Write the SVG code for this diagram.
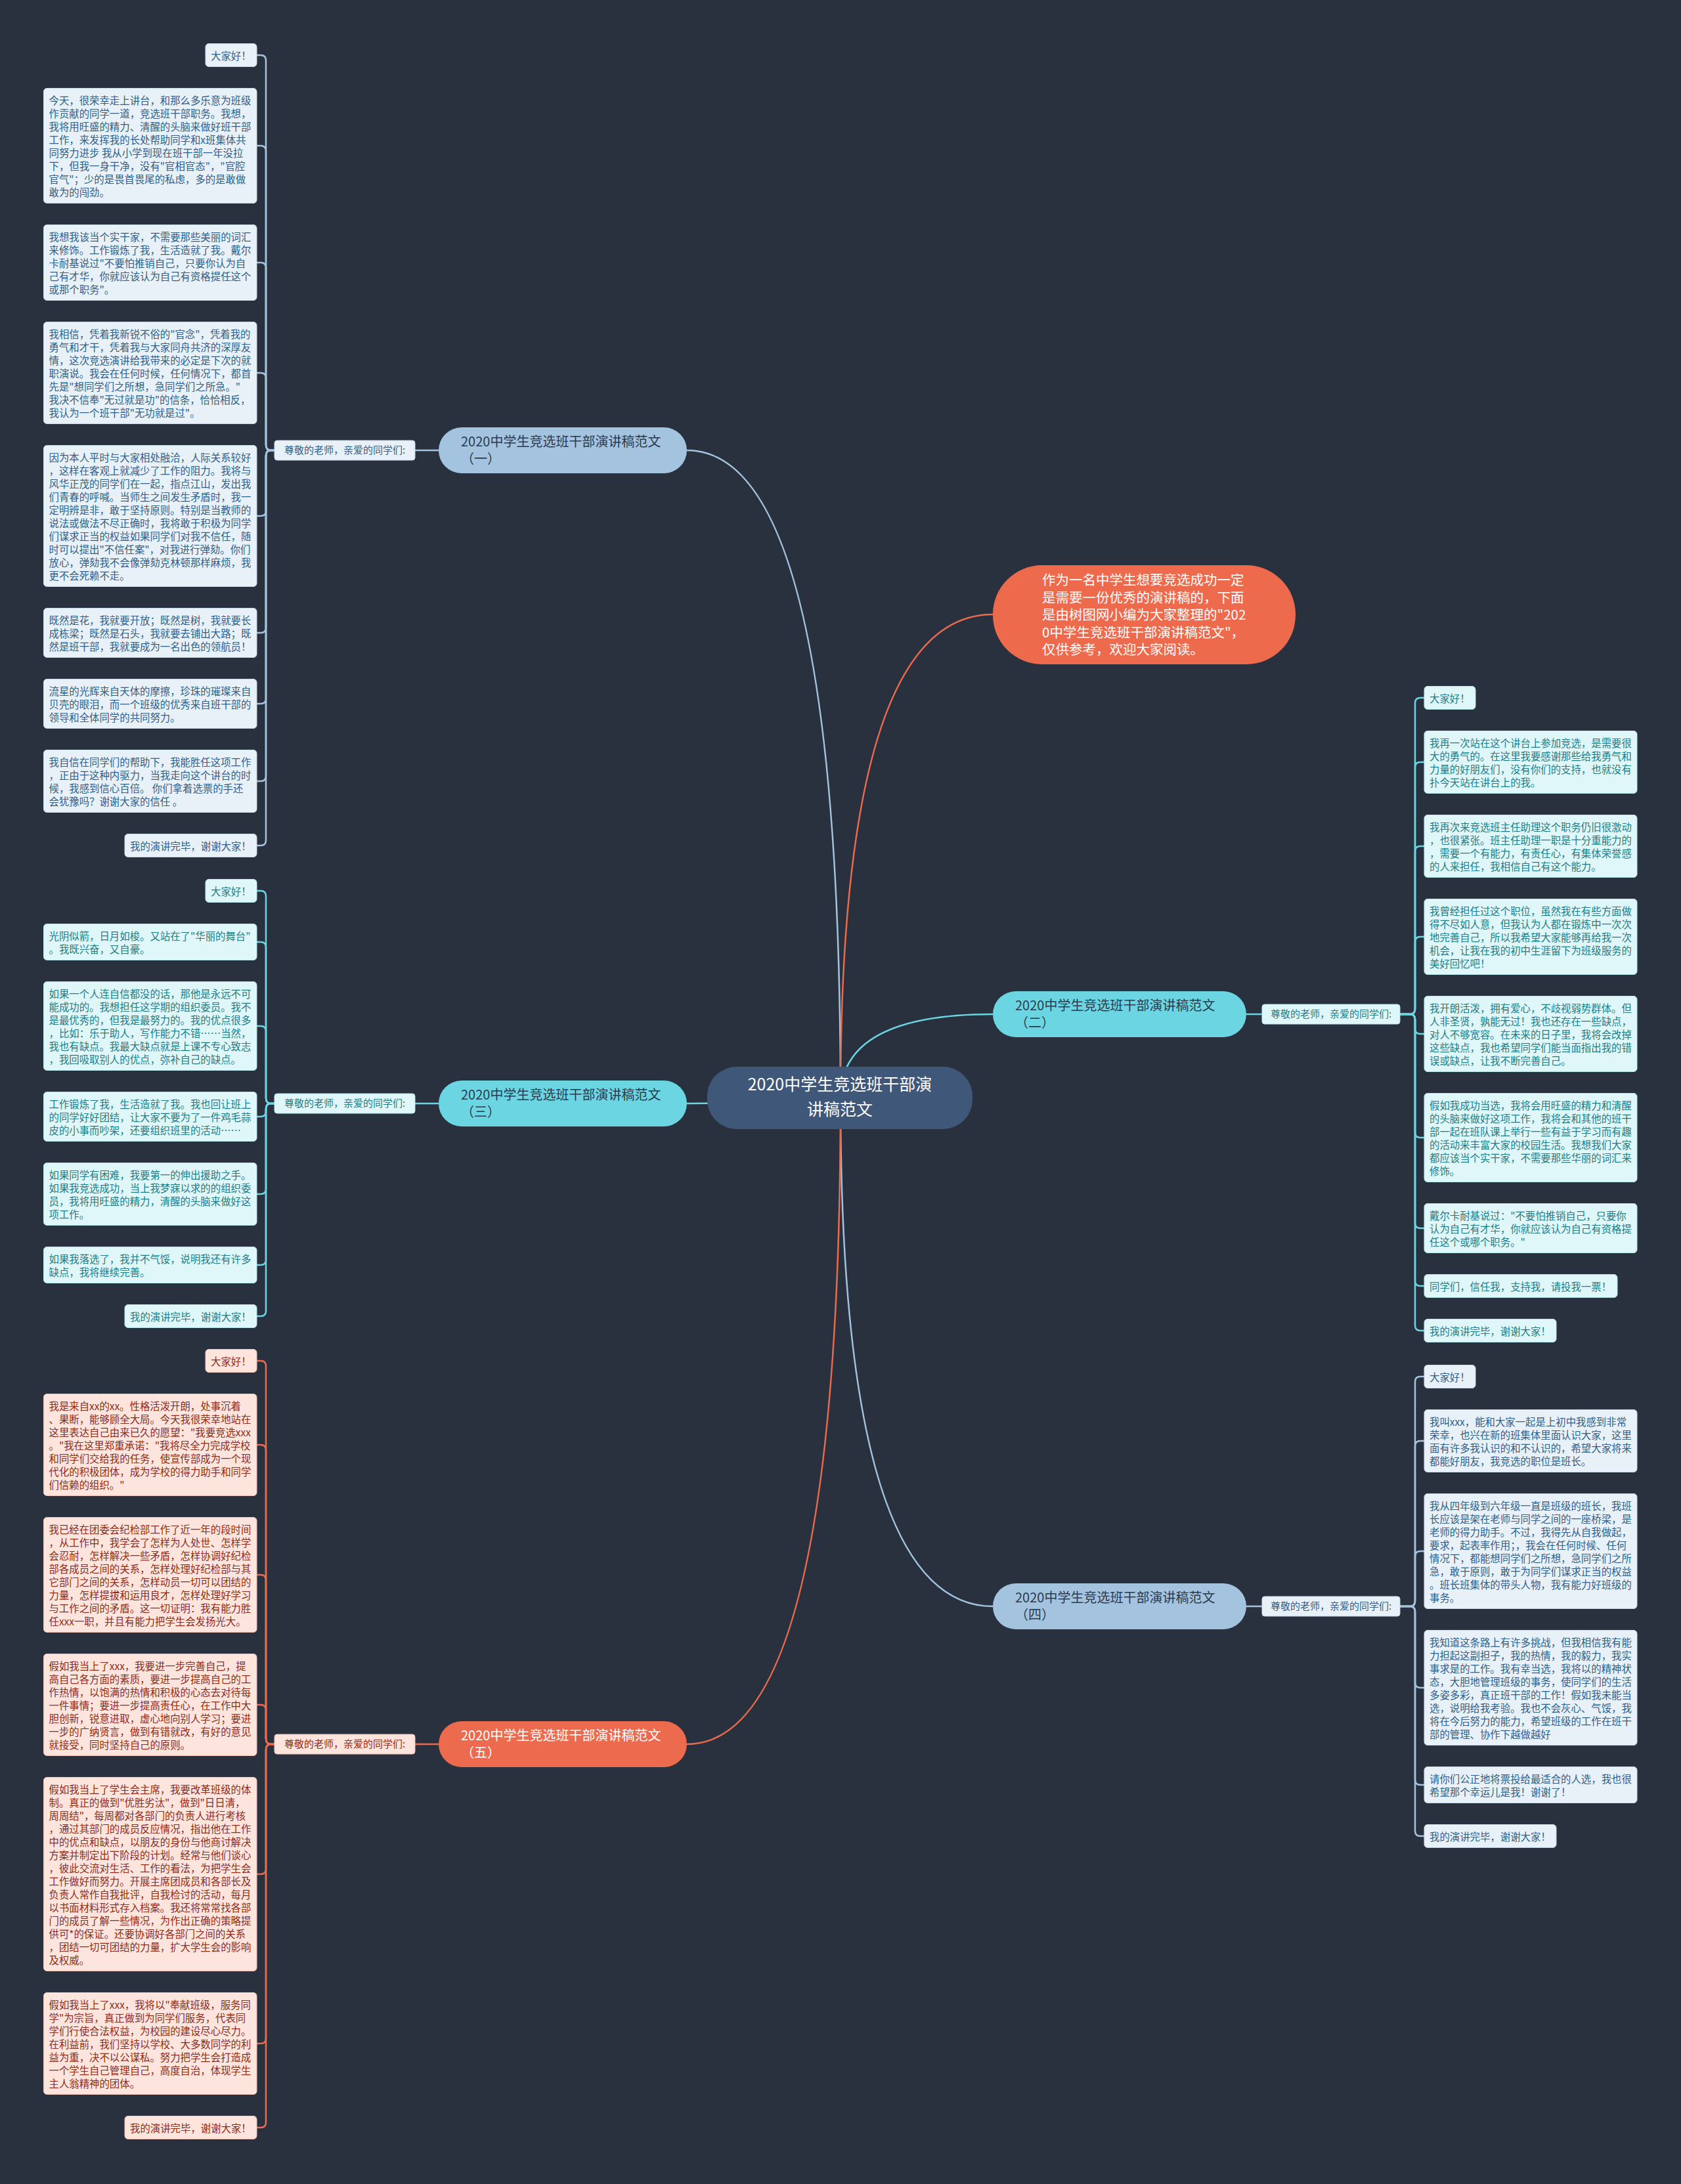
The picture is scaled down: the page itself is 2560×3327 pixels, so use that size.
<svg xmlns="http://www.w3.org/2000/svg" width="2560" height="3327" viewBox="0 0 2560 3327">
<style>
text{font-family:"Noto Sans CJK SC","Noto Sans",sans-serif}
.t{font-size:15.4px}
.lb{font-size:15px}
.bf{fill:#e9f1f8;stroke:#c9dbeb;stroke-width:1}
.bt{fill:#2f5f8a}
.cf{fill:#e0f7fa;stroke:#b6e8ee;stroke-width:1}
.ct{fill:#1d7d86}
.of{fill:#fde5de;stroke:#f2c3b6;stroke-width:1}
.ot{fill:#8c2c1a}
.cb{fill:none;stroke:#a3c3df;stroke-width:2.5}
.cc{fill:none;stroke:#6bd6e1;stroke-width:2.5}
.co{fill:none;stroke:#ec6b4e;stroke-width:2.5}
.nt{font-size:20px;fill:#2b3a4e}
</style>
<rect width="2560" height="3327" fill="#29313f"/>
<g id="connectors">
<path class="cb" d="M1046,686 Q1280,686 1280,1672"/>
<path class="co" d="M1512,936 Q1280,936 1280,1672"/>
<path class="cc" d="M1512,1545 Q1280,1545 1280,1672"/>
<path class="cc" d="M1046,1681 Q1160,1681 1280,1672"/>
<path class="cb" d="M1512,2447 Q1280,2447 1280,1672"/>
<path class="co" d="M1046,2657 Q1280,2657 1280,1672"/>
<path class="cb" d="M632,686 H668"/>
<path class="cc" d="M632,1681 H668"/>
<path class="co" d="M632,2657 H668"/>
<path class="cc" d="M1898,1545 H1922"/>
<path class="cb" d="M1898,2447 H1922"/>
<path class="cb" d="M418,686 H413 Q405,686 405,678 V92 Q405,84 397,84 H391"/>
<path class="cb" d="M418,686 H413 Q405,686 405,678 V230 Q405,222 397,222 H391"/>
<path class="cb" d="M418,686 H413 Q405,686 405,678 V408 Q405,400 397,400 H391"/>
<path class="cb" d="M418,686 H413 Q405,686 405,678 V576 Q405,568 397,568 H391"/>
<path class="cb" d="M418,686 H413 Q405,686 405,694 V778 Q405,786 397,786 H391"/>
<path class="cb" d="M418,686 H413 Q405,686 405,694 V956 Q405,964 397,964 H391"/>
<path class="cb" d="M418,686 H413 Q405,686 405,694 V1064 Q405,1072 397,1072 H391"/>
<path class="cb" d="M418,686 H413 Q405,686 405,694 V1182 Q405,1190 397,1190 H391"/>
<path class="cb" d="M418,686 H413 Q405,686 405,694 V1280 Q405,1288 397,1288 H391"/>
<path class="cc" d="M418,1681 H413 Q405,1681 405,1673 V1365 Q405,1357 397,1357 H391"/>
<path class="cc" d="M418,1681 H413 Q405,1681 405,1673 V1443 Q405,1435 397,1435 H391"/>
<path class="cc" d="M418,1681 H413 Q405,1681 405,1673 V1571 Q405,1563 397,1563 H391"/>
<path class="cc" d="M418,1681 H413 Q405,1681 405,1689 V1693 Q405,1701 397,1701 H391"/>
<path class="cc" d="M418,1681 H413 Q405,1681 405,1689 V1811 Q405,1819 397,1819 H391"/>
<path class="cc" d="M418,1681 H413 Q405,1681 405,1689 V1919 Q405,1927 397,1927 H391"/>
<path class="cc" d="M418,1681 H413 Q405,1681 405,1689 V1997 Q405,2005 397,2005 H391"/>
<path class="co" d="M418,2657 H413 Q405,2657 405,2649 V2081 Q405,2073 397,2073 H391"/>
<path class="co" d="M418,2657 H413 Q405,2657 405,2649 V2209 Q405,2201 397,2201 H391"/>
<path class="co" d="M418,2657 H413 Q405,2657 405,2649 V2407 Q405,2399 397,2399 H391"/>
<path class="co" d="M418,2657 H413 Q405,2657 405,2649 V2605 Q405,2597 397,2597 H391"/>
<path class="co" d="M418,2657 H413 Q405,2657 405,2665 V2847 Q405,2855 397,2855 H391"/>
<path class="co" d="M418,2657 H413 Q405,2657 405,2665 V3105 Q405,3113 397,3113 H391"/>
<path class="co" d="M418,2657 H413 Q405,2657 405,2665 V3233 Q405,3241 397,3241 H391"/>
<path class="cc" d="M2132,1545 H2147 Q2155,1545 2155,1537 V1071 Q2155,1063 2163,1063 H2169"/>
<path class="cc" d="M2132,1545 H2147 Q2155,1545 2155,1537 V1169 Q2155,1161 2163,1161 H2169"/>
<path class="cc" d="M2132,1545 H2147 Q2155,1545 2155,1537 V1297 Q2155,1289 2163,1289 H2169"/>
<path class="cc" d="M2132,1545 H2147 Q2155,1545 2155,1537 V1435 Q2155,1427 2163,1427 H2169"/>
<path class="cc" d="M2132,1545 H2147 Q2155,1545 2155,1553 V1567 Q2155,1575 2163,1575 H2169"/>
<path class="cc" d="M2132,1545 H2147 Q2155,1545 2155,1553 V1725 Q2155,1733 2163,1733 H2169"/>
<path class="cc" d="M2132,1545 H2147 Q2155,1545 2155,1553 V1863 Q2155,1871 2163,1871 H2169"/>
<path class="cc" d="M2132,1545 H2147 Q2155,1545 2155,1553 V1951 Q2155,1959 2163,1959 H2169"/>
<path class="cc" d="M2132,1545 H2147 Q2155,1545 2155,1553 V2019 Q2155,2027 2163,2027 H2169"/>
<path class="cb" d="M2132,2447 H2147 Q2155,2447 2155,2439 V2105 Q2155,2097 2163,2097 H2169"/>
<path class="cb" d="M2132,2447 H2147 Q2155,2447 2155,2439 V2203 Q2155,2195 2163,2195 H2169"/>
<path class="cb" d="M2132,2447 H2147 Q2155,2447 2155,2439 V2371 Q2155,2363 2163,2363 H2169"/>
<path class="cb" d="M2132,2447 H2147 Q2155,2447 2155,2455 V2563 Q2155,2571 2163,2571 H2169"/>
<path class="cb" d="M2132,2447 H2147 Q2155,2447 2155,2455 V2711 Q2155,2719 2163,2719 H2169"/>
<path class="cb" d="M2132,2447 H2147 Q2155,2447 2155,2455 V2789 Q2155,2797 2163,2797 H2169"/>
</g>

<g id="center"><rect x="1077" y="1625" width="404" height="95" rx="45" fill="#3f5779"/>
<text x="1279" y="1661" text-anchor="middle" font-size="25" fill="#ffffff">2020中学生竞选班干部演</text>
<text x="1279" y="1699" text-anchor="middle" font-size="25" fill="#ffffff">讲稿范文</text></g>

<g id="intro"><rect x="1512" y="861" width="461" height="151" rx="75" fill="#ee6a4c"/>
<text font-size="20.5" fill="#ffffff"><tspan x="1587" y="891">作为一名中学生想要竞选成功一定</tspan><tspan x="1587" y="917.5">是需要一份优秀的演讲稿的，下面</tspan><tspan x="1587" y="944">是由树图网小编为大家整理的"202</tspan><tspan x="1587" y="970.5">0中学生竞选班干部演讲稿范文"，</tspan><tspan x="1587" y="997">仅供参考，欢迎大家阅读。</tspan></text></g>

<g id="n1"><rect x="668" y="651" width="378" height="70" rx="35" fill="#a3c3df"/>
<text class="nt"><tspan x="702" y="680">2020中学生竞选班干部演讲稿范文</tspan><tspan x="702" y="706">（一）</tspan></text></g>
<g id="n2"><rect x="1512" y="1510" width="386" height="70" rx="35" fill="#6bd6e1"/>
<text class="nt"><tspan x="1546" y="1539">2020中学生竞选班干部演讲稿范文</tspan><tspan x="1546" y="1565">（二）</tspan></text></g>
<g id="n3"><rect x="668" y="1646" width="378" height="70" rx="35" fill="#6bd6e1"/>
<text class="nt"><tspan x="702" y="1675">2020中学生竞选班干部演讲稿范文</tspan><tspan x="702" y="1701">（三）</tspan></text></g>
<g id="n4"><rect x="1512" y="2412" width="386" height="70" rx="35" fill="#a3c3df"/>
<text class="nt"><tspan x="1546" y="2441">2020中学生竞选班干部演讲稿范文</tspan><tspan x="1546" y="2467">（四）</tspan></text></g>
<g id="n5"><rect x="668" y="2622" width="378" height="70" rx="35" fill="#ec6b4e"/>
<text class="nt" style="fill:#ffffff"><tspan x="702" y="2651">2020中学生竞选班干部演讲稿范文</tspan><tspan x="702" y="2677">（五）</tspan></text></g>

<g id="lab1"><rect class="bf" x="418" y="671" width="214" height="30" rx="4"/><text class="lb bt" x="525" y="691" text-anchor="middle">尊敬的老师，亲爱的同学们:</text></g>
<g id="lab3"><rect class="cf" x="418" y="1666" width="214" height="30" rx="4"/><text class="lb ct" x="525" y="1686" text-anchor="middle">尊敬的老师，亲爱的同学们:</text></g>
<g id="lab5"><rect class="of" x="418" y="2642" width="214" height="30" rx="4"/><text class="lb ot" x="525" y="2662" text-anchor="middle">尊敬的老师，亲爱的同学们:</text></g>
<g id="lab2"><rect class="cf" x="1922" y="1530" width="210" height="30" rx="4"/><text class="lb ct" x="2027" y="1550" text-anchor="middle">尊敬的老师，亲爱的同学们:</text></g>
<g id="lab4"><rect class="bf" x="1922" y="2432" width="210" height="30" rx="4"/><text class="lb bt" x="2027" y="2452" text-anchor="middle">尊敬的老师，亲爱的同学们:</text></g>

<g id="b1-0"><rect class="bf" x="313" y="66.5" width="78" height="35" rx="5"/><text class="t bt" x="321" y="90.5">大家好！</text></g>
<g id="b1-1"><rect class="bf" x="66.5" y="134.5" width="324.5" height="175" rx="5"/><text class="t bt"><tspan x="74.5" y="158.5">今天，很荣幸走上讲台，和那么多乐意为班级</tspan><tspan x="74.5" dy="20">作贡献的同学一道，竞选班干部职务。我想，</tspan><tspan x="74.5" dy="20">我将用旺盛的精力、清醒的头脑来做好班干部</tspan><tspan x="74.5" dy="20">工作，来发挥我的长处帮助同学和x班集体共</tspan><tspan x="74.5" dy="20">同努力进步 我从小学到现在班干部一年没拉</tspan><tspan x="74.5" dy="20">下，但我一身干净，没有"官相官态"，"官腔</tspan><tspan x="74.5" dy="20">官气"；少的是畏首畏尾的私虑，多的是敢做</tspan><tspan x="74.5" dy="20">敢为的闯劲。</tspan></text></g>
<g id="b1-2"><rect class="bf" x="66.5" y="342.5" width="324.5" height="115" rx="5"/><text class="t bt"><tspan x="74.5" y="366.5">我想我该当个实干家，不需要那些美丽的词汇</tspan><tspan x="74.5" dy="20">来修饰。工作锻炼了我，生活造就了我。戴尔</tspan><tspan x="74.5" dy="20">卡耐基说过"不要怕推销自己，只要你认为自</tspan><tspan x="74.5" dy="20">己有才华，你就应该认为自己有资格提任这个</tspan><tspan x="74.5" dy="20">或那个职务"。</tspan></text></g>
<g id="b1-3"><rect class="bf" x="66.5" y="490.5" width="324.5" height="155" rx="5"/><text class="t bt"><tspan x="74.5" y="514.5">我相信，凭着我新锐不俗的"官念"，凭着我的</tspan><tspan x="74.5" dy="20">勇气和才干，凭着我与大家同舟共济的深厚友</tspan><tspan x="74.5" dy="20">情，这次竞选演讲给我带来的必定是下次的就</tspan><tspan x="74.5" dy="20">职演说。我会在任何时候，任何情况下，都首</tspan><tspan x="74.5" dy="20">先是"想同学们之所想，急同学们之所急。"</tspan><tspan x="74.5" dy="20">我决不信奉"无过就是功"的信条，恰恰相反，</tspan><tspan x="74.5" dy="20">我认为一个班干部"无功就是过"。</tspan></text></g>
<g id="b1-4"><rect class="bf" x="66.5" y="678.5" width="324.5" height="215" rx="5"/><text class="t bt"><tspan x="74.5" y="702.5">因为本人平时与大家相处融洽，人际关系较好</tspan><tspan x="74.5" dy="20">，这样在客观上就减少了工作的阻力。我将与</tspan><tspan x="74.5" dy="20">风华正茂的同学们在一起，指点江山，发出我</tspan><tspan x="74.5" dy="20">们青春的呼喊。当师生之间发生矛盾时，我一</tspan><tspan x="74.5" dy="20">定明辨是非，敢于坚持原则。特别是当教师的</tspan><tspan x="74.5" dy="20">说法或做法不尽正确时，我将敢于积极为同学</tspan><tspan x="74.5" dy="20">们谋求正当的权益如果同学们对我不信任，随</tspan><tspan x="74.5" dy="20">时可以提出"不信任案"，对我进行弹劾。你们</tspan><tspan x="74.5" dy="20">放心，弹劾我不会像弹劾克林顿那样麻烦，我</tspan><tspan x="74.5" dy="20">更不会死赖不走。</tspan></text></g>
<g id="b1-5"><rect class="bf" x="66.5" y="926.5" width="324.5" height="75" rx="5"/><text class="t bt"><tspan x="74.5" y="950.5">既然是花，我就要开放；既然是树，我就要长</tspan><tspan x="74.5" dy="20">成栋梁；既然是石头，我就要去铺出大路；既</tspan><tspan x="74.5" dy="20">然是班干部，我就要成为一名出色的领航员！</tspan></text></g>
<g id="b1-6"><rect class="bf" x="66.5" y="1034.5" width="324.5" height="75" rx="5"/><text class="t bt"><tspan x="74.5" y="1058.5">流星的光辉来自天体的摩擦，珍珠的璀璨来自</tspan><tspan x="74.5" dy="20">贝壳的眼泪，而一个班级的优秀来自班干部的</tspan><tspan x="74.5" dy="20">领导和全体同学的共同努力。</tspan></text></g>
<g id="b1-7"><rect class="bf" x="66.5" y="1142.5" width="324.5" height="95" rx="5"/><text class="t bt"><tspan x="74.5" y="1166.5">我自信在同学们的帮助下，我能胜任这项工作</tspan><tspan x="74.5" dy="20">，正由于这种内驱力，当我走向这个讲台的时</tspan><tspan x="74.5" dy="20">候，我感到信心百倍。 你们拿着选票的手还</tspan><tspan x="74.5" dy="20">会犹豫吗？谢谢大家的信任 。</tspan></text></g>
<g id="b1-8"><rect class="bf" x="190" y="1270.5" width="201" height="35" rx="5"/><text class="t bt" x="198" y="1294.5">我的演讲完毕，谢谢大家！</text></g>

<g id="b3-0"><rect class="cf" x="313" y="1339.5" width="78" height="35" rx="5"/><text class="t ct" x="321" y="1363.5">大家好！</text></g>
<g id="b3-1"><rect class="cf" x="66.5" y="1407.5" width="324.5" height="55" rx="5"/><text class="t ct"><tspan x="74.5" y="1431.5">光阴似箭，日月如梭。又站在了"华丽的舞台"</tspan><tspan x="74.5" dy="20">。我既兴奋，又自豪。</tspan></text></g>
<g id="b3-2"><rect class="cf" x="66.5" y="1495.5" width="324.5" height="135" rx="5"/><text class="t ct"><tspan x="74.5" y="1519.5">如果一个人连自信都没的话，那他是永远不可</tspan><tspan x="74.5" dy="20">能成功的。我想担任这学期的组织委员。我不</tspan><tspan x="74.5" dy="20">是最优秀的，但我是最努力的。我的优点很多</tspan><tspan x="74.5" dy="20">，比如：乐于助人，写作能力不错……当然，</tspan><tspan x="74.5" dy="20">我也有缺点。我最大缺点就是上课不专心致志</tspan><tspan x="74.5" dy="20">，我回吸取别人的优点，弥补自己的缺点。</tspan></text></g>
<g id="b3-3"><rect class="cf" x="66.5" y="1663.5" width="324.5" height="75" rx="5"/><text class="t ct"><tspan x="74.5" y="1687.5">工作锻炼了我，生活造就了我。我也回让班上</tspan><tspan x="74.5" dy="20">的同学好好团结，让大家不要为了一件鸡毛蒜</tspan><tspan x="74.5" dy="20">皮的小事而吵架，还要组织班里的活动……</tspan></text></g>
<g id="b3-4"><rect class="cf" x="66.5" y="1771.5" width="324.5" height="95" rx="5"/><text class="t ct"><tspan x="74.5" y="1795.5">如果同学有困难，我要第一的伸出援助之手。</tspan><tspan x="74.5" dy="20">如果我竞选成功，当上我梦寐以求的的组织委</tspan><tspan x="74.5" dy="20">员，我将用旺盛的精力，清醒的头脑来做好这</tspan><tspan x="74.5" dy="20">项工作。</tspan></text></g>
<g id="b3-5"><rect class="cf" x="66.5" y="1899.5" width="324.5" height="55" rx="5"/><text class="t ct"><tspan x="74.5" y="1923.5">如果我落选了，我并不气馁，说明我还有许多</tspan><tspan x="74.5" dy="20">缺点，我将继续完善。</tspan></text></g>
<g id="b3-6"><rect class="cf" x="190" y="1987.5" width="201" height="35" rx="5"/><text class="t ct" x="198" y="2011.5">我的演讲完毕，谢谢大家！</text></g>

<g id="b5-0"><rect class="of" x="313" y="2055.5" width="78" height="35" rx="5"/><text class="t ot" x="321" y="2079.5">大家好！</text></g>
<g id="b5-1"><rect class="of" x="66.5" y="2123.5" width="324.5" height="155" rx="5"/><text class="t ot"><tspan x="74.5" y="2147.5">我是来自xx的xx。性格活泼开朗，处事沉着</tspan><tspan x="74.5" dy="20">、果断，能够顾全大局。今天我很荣幸地站在</tspan><tspan x="74.5" dy="20">这里表达自己由来已久的愿望："我要竞选xxx</tspan><tspan x="74.5" dy="20">。"我在这里郑重承诺："我将尽全力完成学校</tspan><tspan x="74.5" dy="20">和同学们交给我的任务，使宣传部成为一个现</tspan><tspan x="74.5" dy="20">代化的积极团体，成为学校的得力助手和同学</tspan><tspan x="74.5" dy="20">们信赖的组织。"</tspan></text></g>
<g id="b5-2"><rect class="of" x="66.5" y="2311.5" width="324.5" height="175" rx="5"/><text class="t ot"><tspan x="74.5" y="2335.5">我已经在团委会纪检部工作了近一年的段时间</tspan><tspan x="74.5" dy="20">，从工作中，我学会了怎样为人处世、怎样学</tspan><tspan x="74.5" dy="20">会忍耐，怎样解决一些矛盾，怎样协调好纪检</tspan><tspan x="74.5" dy="20">部各成员之间的关系，怎样处理好纪检部与其</tspan><tspan x="74.5" dy="20">它部门之间的关系，怎样动员一切可以团结的</tspan><tspan x="74.5" dy="20">力量，怎样提拔和运用良才，怎样处理好学习</tspan><tspan x="74.5" dy="20">与工作之间的矛盾。这一切证明：我有能力胜</tspan><tspan x="74.5" dy="20">任xxx一职，并且有能力把学生会发扬光大。</tspan></text></g>
<g id="b5-3"><rect class="of" x="66.5" y="2519.5" width="324.5" height="155" rx="5"/><text class="t ot"><tspan x="74.5" y="2543.5">假如我当上了xxx，我要进一步完善自己，提</tspan><tspan x="74.5" dy="20">高自己各方面的素质，要进一步提高自己的工</tspan><tspan x="74.5" dy="20">作热情，以饱满的热情和积极的心态去对待每</tspan><tspan x="74.5" dy="20">一件事情；要进一步提高责任心，在工作中大</tspan><tspan x="74.5" dy="20">胆创新，锐意进取，虚心地向别人学习；要进</tspan><tspan x="74.5" dy="20">一步的广纳贤言，做到有错就改，有好的意见</tspan><tspan x="74.5" dy="20">就接受，同时坚持自己的原则。</tspan></text></g>
<g id="b5-4"><rect class="of" x="66.5" y="2707.5" width="324.5" height="295" rx="5"/><text class="t ot"><tspan x="74.5" y="2731.5">假如我当上了学生会主席，我要改革班级的体</tspan><tspan x="74.5" dy="20">制。真正的做到"优胜劣汰"，做到"日日清，</tspan><tspan x="74.5" dy="20">周周结"，每周都对各部门的负责人进行考核</tspan><tspan x="74.5" dy="20">，通过其部门的成员反应情况，指出他在工作</tspan><tspan x="74.5" dy="20">中的优点和缺点，以朋友的身份与他商讨解决</tspan><tspan x="74.5" dy="20">方案并制定出下阶段的计划。经常与他们谈心</tspan><tspan x="74.5" dy="20">，彼此交流对生活、工作的看法，为把学生会</tspan><tspan x="74.5" dy="20">工作做好而努力。开展主席团成员和各部长及</tspan><tspan x="74.5" dy="20">负责人常作自我批评，自我检讨的活动，每月</tspan><tspan x="74.5" dy="20">以书面材料形式存入档案。我还将常常找各部</tspan><tspan x="74.5" dy="20">门的成员了解一些情况，为作出正确的策略提</tspan><tspan x="74.5" dy="20">供可*的保证。还要协调好各部门之间的关系</tspan><tspan x="74.5" dy="20">，团结一切可团结的力量，扩大学生会的影响</tspan><tspan x="74.5" dy="20">及权威。</tspan></text></g>
<g id="b5-5"><rect class="of" x="66.5" y="3035.5" width="324.5" height="155" rx="5"/><text class="t ot"><tspan x="74.5" y="3059.5">假如我当上了xxx，我将以"奉献班级，服务同</tspan><tspan x="74.5" dy="20">学"为宗旨，真正做到为同学们服务，代表同</tspan><tspan x="74.5" dy="20">学们行使合法权益，为校园的建设尽心尽力。</tspan><tspan x="74.5" dy="20">在利益前，我们坚持以学校、大多数同学的利</tspan><tspan x="74.5" dy="20">益为重，决不以公谋私。努力把学生会打造成</tspan><tspan x="74.5" dy="20">一个学生自己管理自己，高度自治，体现学生</tspan><tspan x="74.5" dy="20">主人翁精神的团体。</tspan></text></g>
<g id="b5-6"><rect class="of" x="190" y="3223.5" width="201" height="35" rx="5"/><text class="t ot" x="198" y="3247.5">我的演讲完毕，谢谢大家！</text></g>

<g id="b2-0"><rect class="cf" x="2169" y="1045.5" width="78" height="35" rx="5"/><text class="t ct" x="2177" y="1069.5">大家好！</text></g>
<g id="b2-1"><rect class="cf" x="2169" y="1113.5" width="324" height="95" rx="5"/><text class="t ct"><tspan x="2177" y="1137.5">我再一次站在这个讲台上参加竞选，是需要很</tspan><tspan x="2177" dy="20">大的勇气的。在这里我要感谢那些给我勇气和</tspan><tspan x="2177" dy="20">力量的好朋友们，没有你们的支持，也就没有</tspan><tspan x="2177" dy="20">扑今天站在讲台上的我。</tspan></text></g>
<g id="b2-2"><rect class="cf" x="2169" y="1241.5" width="324" height="95" rx="5"/><text class="t ct"><tspan x="2177" y="1265.5">我再次来竞选班主任助理这个职务仍旧很激动</tspan><tspan x="2177" dy="20">，也很紧张。班主任助理一职是十分重能力的</tspan><tspan x="2177" dy="20">，需要一个有能力，有责任心，有集体荣誉感</tspan><tspan x="2177" dy="20">的人来担任，我相信自己有这个能力。</tspan></text></g>
<g id="b2-3"><rect class="cf" x="2169" y="1369.5" width="324" height="115" rx="5"/><text class="t ct"><tspan x="2177" y="1393.5">我曾经担任过这个职位，虽然我在有些方面做</tspan><tspan x="2177" dy="20">得不尽如人意，但我认为人都在锻炼中一次次</tspan><tspan x="2177" dy="20">地完善自己，所以我希望大家能够再给我一次</tspan><tspan x="2177" dy="20">机会，让我在我的初中生涯留下为班级服务的</tspan><tspan x="2177" dy="20">美好回忆吧！</tspan></text></g>
<g id="b2-4"><rect class="cf" x="2169" y="1517.5" width="324" height="115" rx="5"/><text class="t ct"><tspan x="2177" y="1541.5">我开朗活泼，拥有爱心，不歧视弱势群体。但</tspan><tspan x="2177" dy="20">人非圣贤，孰能无过！我也还存在一些缺点，</tspan><tspan x="2177" dy="20">对人不够宽容。在未来的日子里，我将会改掉</tspan><tspan x="2177" dy="20">这些缺点，我也希望同学们能当面指出我的错</tspan><tspan x="2177" dy="20">误或缺点，让我不断完善自己。</tspan></text></g>
<g id="b2-5"><rect class="cf" x="2169" y="1665.5" width="324" height="135" rx="5"/><text class="t ct"><tspan x="2177" y="1689.5">假如我成功当选，我将会用旺盛的精力和清醒</tspan><tspan x="2177" dy="20">的头脑来做好这项工作，我将会和其他的班干</tspan><tspan x="2177" dy="20">部一起在班队课上举行一些有益于学习而有趣</tspan><tspan x="2177" dy="20">的活动来丰富大家的校园生活。我想我们大家</tspan><tspan x="2177" dy="20">都应该当个实干家，不需要那些华丽的词汇来</tspan><tspan x="2177" dy="20">修饰。</tspan></text></g>
<g id="b2-6"><rect class="cf" x="2169" y="1833.5" width="324" height="75" rx="5"/><text class="t ct"><tspan x="2177" y="1857.5">戴尔卡耐基说过："不要怕推销自己，只要你</tspan><tspan x="2177" dy="20">认为自己有才华，你就应该认为自己有资格提</tspan><tspan x="2177" dy="20">任这个或哪个职务。"</tspan></text></g>
<g id="b2-7"><rect class="cf" x="2169" y="1941.5" width="294" height="35" rx="5"/><text class="t ct" x="2177" y="1965.5">同学们，信任我，支持我，请投我一票！</text></g>
<g id="b2-8"><rect class="cf" x="2169" y="2009.5" width="201" height="35" rx="5"/><text class="t ct" x="2177" y="2033.5">我的演讲完毕，谢谢大家！</text></g>

<g id="b4-0"><rect class="bf" x="2169" y="2079.5" width="78" height="35" rx="5"/><text class="t bt" x="2177" y="2103.5">大家好！</text></g>
<g id="b4-1"><rect class="bf" x="2169" y="2147.5" width="324" height="95" rx="5"/><text class="t bt"><tspan x="2177" y="2171.5">我叫xxx，能和大家一起是上初中我感到非常</tspan><tspan x="2177" dy="20">荣幸，也兴在新的班集体里面认识大家，这里</tspan><tspan x="2177" dy="20">面有许多我认识的和不认识的，希望大家将来</tspan><tspan x="2177" dy="20">都能好朋友，我竞选的职位是班长。</tspan></text></g>
<g id="b4-2"><rect class="bf" x="2169" y="2275.5" width="324" height="175" rx="5"/><text class="t bt"><tspan x="2177" y="2299.5">我从四年级到六年级一直是班级的班长，我班</tspan><tspan x="2177" dy="20">长应该是架在老师与同学之间的一座桥梁，是</tspan><tspan x="2177" dy="20">老师的得力助手。不过，我得先从自我做起，</tspan><tspan x="2177" dy="20">要求，起表率作用；，我会在任何时候、任何</tspan><tspan x="2177" dy="20">情况下，都能想同学们之所想，急同学们之所</tspan><tspan x="2177" dy="20">急，敢于原则，敢于为同学们谋求正当的权益</tspan><tspan x="2177" dy="20">。班长班集体的带头人物，我有能力好班级的</tspan><tspan x="2177" dy="20">事务。</tspan></text></g>
<g id="b4-3"><rect class="bf" x="2169" y="2483.5" width="324" height="175" rx="5"/><text class="t bt"><tspan x="2177" y="2507.5">我知道这条路上有许多挑战，但我相信我有能</tspan><tspan x="2177" dy="20">力担起这副担子，我的热情，我的毅力，我实</tspan><tspan x="2177" dy="20">事求是的工作。我有幸当选，我将以的精神状</tspan><tspan x="2177" dy="20">态，大胆地管理班级的事务，使同学们的生活</tspan><tspan x="2177" dy="20">多姿多彩，真正班干部的工作！假如我未能当</tspan><tspan x="2177" dy="20">选，说明给我考验。我也不会灰心、气馁，我</tspan><tspan x="2177" dy="20">将在今后努力的能力，希望班级的工作在班干</tspan><tspan x="2177" dy="20">部的管理、协作下越做越好</tspan></text></g>
<g id="b4-4"><rect class="bf" x="2169" y="2691.5" width="324" height="55" rx="5"/><text class="t bt"><tspan x="2177" y="2715.5">请你们公正地将票投给最适合的人选，我也很</tspan><tspan x="2177" dy="20">希望那个幸运儿是我！谢谢了！</tspan></text></g>
<g id="b4-5"><rect class="bf" x="2169" y="2779.5" width="201" height="35" rx="5"/><text class="t bt" x="2177" y="2803.5">我的演讲完毕，谢谢大家！</text></g>
</svg>
